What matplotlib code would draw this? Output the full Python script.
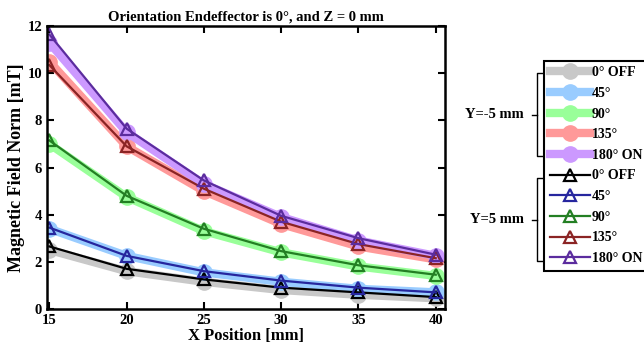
# libraries
import numpy as np
import matplotlib.pyplot as plt
from matplotlib.lines import Line2D

plt.rcParams['font.family'] = 'Liberation Serif'
plt.rcParams['font.weight'] = 'bold'

# data
x_pos = [15, 20, 25, 30, 35, 40]
angles = ['0\u00b0 OFF', '45\u00b0', '90\u00b0', '135\u00b0', '180\u00b0 ON']

# Y = -5 mm
ym5_0 = [2.5, 1.6, 1.15, 0.8, 0.6, 0.45]
ym5_45 = [3.4, 2.25, 1.55, 1.15, 0.85, 0.7]
ym5_90 = [7.0, 4.75, 3.3, 2.4, 1.8, 1.4]
ym5_135 = [10.5, 6.9, 5.0, 3.6, 2.65, 2.1]
ym5_180 = [11.3, 7.5, 5.3, 3.9, 2.9, 2.25]

# Y = 5 mm
yp5_0 = [2.65, 1.7, 1.25, 0.9, 0.7, 0.5]
yp5_45 = [3.45, 2.25, 1.6, 1.2, 0.9, 0.7]
yp5_90 = [7.15, 4.8, 3.4, 2.45, 1.85, 1.45]
yp5_135 = [10.35, 6.9, 5.1, 3.7, 2.75, 2.15]
yp5_180 = [11.65, 7.65, 5.45, 3.95, 3.0, 2.3]

light_colors = ['#c8c8c8', '#99ccff', '#99ff99', '#ff9999', '#cc99ff']
dark_colors = ['#000000', '#26269e', '#237f23', '#8b2424', '#5b2c9e']

fig = plt.figure(figsize=(6.44, 3.49), dpi=100)
ax = fig.add_axes([0.073, 0.115, 0.618, 0.81])

handles = []
for ys, c, lab in zip([ym5_0, ym5_45, ym5_90, ym5_135, ym5_180], light_colors, angles):
    h, = ax.plot(x_pos, ys, color=c, lw=6, marker='o', ms=11, label=lab)
    handles.append(h)
for ys, c, lab in zip([yp5_0, yp5_45, yp5_90, yp5_135, yp5_180], dark_colors, angles):
    h, = ax.plot(x_pos, ys, color=c, lw=1.6, marker='^', ms=9, mfc='none', mew=1.6, label=lab)
    handles.append(h)

ax.set_xlim(14.85, 40.6)
ax.set_ylim(0, 12)
ax.set_xticks([15, 20, 25, 30, 35, 40])
ax.set_yticks([0, 2, 4, 6, 8, 10, 12])
ax.tick_params(direction='in', top=True, right=True, width=1.5, length=5, labelsize=10.5)
for s in ax.spines.values():
    s.set_linewidth(1.8)
ax.set_xlabel('X Position [mm]', fontsize=12, fontweight='bold', labelpad=1)
ax.set_ylabel('Magnetic Field Norm [mT]', fontsize=13, fontweight='bold', labelpad=2)
ax.set_title('Orientation Endeffector is 0\u00b0, and Z = 0 mm', fontsize=10.5, fontweight='bold', pad=4)

leg = fig.legend(handles=handles, loc='upper left', bbox_to_anchor=(0.845, 0.826),
                 fontsize=10, handlelength=2.9, labelspacing=0.55, borderpad=0.4,
                 handletextpad=0.15, fancybox=False, framealpha=1, borderaxespad=0)
leg.get_frame().set_edgecolor('black')
leg.get_frame().set_linewidth(1.5)

# brackets for the two groups
def bracket(y_top, y_bot, label):
    xb = 537 / 644
    xt = 1 - y_top / 349
    xbm = 1 - y_bot / 349
    ym = (xt + xbm) / 2
    tick = 5 / 644
    fig.add_artist(Line2D([xb + tick, xb, xb, xb + tick], [xt, xt, xbm, xbm],
                          color='black', lw=1, transform=fig.transFigure))
    fig.add_artist(Line2D([xb - tick, xb], [ym, ym], color='black', lw=1,
                          transform=fig.transFigure))
    fig.text(xb - 2.6 * tick, ym, label, ha='right', va='center', fontsize=10.5, fontweight='bold')

bracket(73, 156, 'Y=-5 mm')
bracket(178, 261, 'Y=5 mm')

plt.savefig('out.png', dpi=100)
